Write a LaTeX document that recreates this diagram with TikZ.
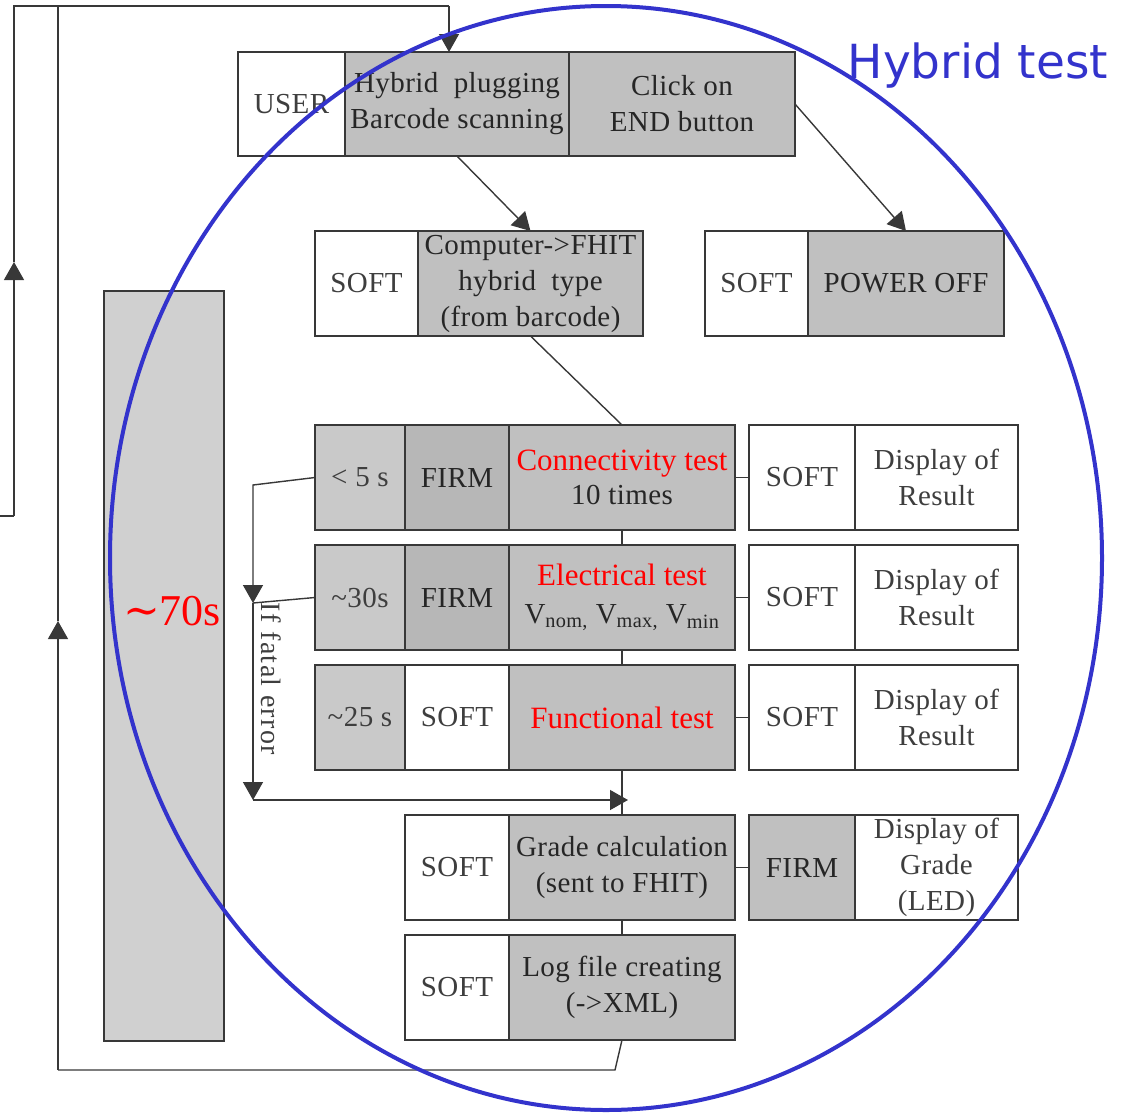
\documentclass[tikz,border=0pt]{standalone}
\usepackage{fontspec}
\setmainfont{Liberation Serif}
\newfontfamily\cellfont{Liberation Serif}[LetterSpace=1.5]
\newfontfamily\labelsans{DejaVu Sans}
\newfontfamily\symserif{DejaVu Serif}
\usetikzlibrary{arrows.meta}

\definecolor{ink}{HTML}{262626}
\definecolor{softink}{HTML}{3E3E3E}
\definecolor{edge}{HTML}{383838}
\definecolor{cellgray}{HTML}{C0C0C0}
\definecolor{timegray}{HTML}{C9C9C9}
\definecolor{firmgray}{HTML}{B7B7B7}
\definecolor{bandgray}{HTML}{D0D0D0}
\definecolor{ringblue}{HTML}{3333CC}
\definecolor{alertred}{HTML}{FF0000}

\newcommand\redline[1]{{\rmfamily\fontsize{31}{38}\selectfont\color{alertred}#1}}

\begin{document}
\begin{tikzpicture}[x=1pt,y=-1pt,
  cell/.style={draw=edge, line width=1.8pt, inner sep=0pt, outer sep=0pt,
    anchor=north west, align=center, text=ink,
    font=\cellfont\fontsize{29}{36}\selectfont},
  whitecell/.style={cell, fill=white, text=softink},
  graycell/.style={cell, fill=cellgray},
  timecell/.style={cell, fill=timegray, text=softink},
  firmcell/.style={cell, fill=firmgray},
  conn/.style={draw=edge, line width=1.4pt},
  tip/.style={-{Triangle[length=18pt,width=20pt]}}
]
\useasboundingbox (0,0) rectangle (1125,1114);

% total-time band
\node[cell, fill=bandgray, minimum width=120pt, minimum height=750pt] (band) at (104,291) {};
\node[text=alertred, font=\rmfamily\fontsize{44}{50}\selectfont] (total) at (172,611) {{\symserif ∼}70s};

% row 1: operator actions
\node[whitecell, minimum width=107pt, minimum height=104pt] (user) at (238,52) {USER};
\node[graycell, minimum width=224pt, minimum height=104pt] (plug) at (345,52) {Hybrid\ \ plugging\\Barcode scanning};
\node[graycell, minimum width=226pt, minimum height=104pt] (click) at (569,52) {Click on\\END button};

% row 2
\node[whitecell, minimum width=103pt, minimum height=105pt] (softa) at (315,231) {SOFT};
\node[graycell, minimum width=225pt, minimum height=105pt] (comp) at (418,231) {Computer->FHIT\\hybrid\ \ type\\(from barcode)};
\node[whitecell, minimum width=103pt, minimum height=105pt] (softb) at (705,231) {SOFT};
\node[graycell, minimum width=196pt, minimum height=105pt] (power) at (808,231) {POWER OFF};

% row 3: connectivity
\node[timecell, minimum width=90pt, minimum height=105pt] (tfive) at (315,425) {< 5 s};
\node[firmcell, minimum width=104pt, minimum height=105pt] (firma) at (405,425) {FIRM};
\node[graycell, minimum width=226pt, minimum height=105pt] (connt) at (509,425) {\redline{Connectivity test}\\[-2pt]10 times};
\node[whitecell, minimum width=106pt, minimum height=105pt] (softc) at (749,425) {SOFT};
\node[whitecell, minimum width=163pt, minimum height=105pt] (dispa) at (855,425) {Display of\\Result};

% row 4: electrical
\node[timecell, minimum width=90pt, minimum height=105pt] (tthirty) at (315,545) {\textasciitilde30s};
\node[firmcell, minimum width=104pt, minimum height=105pt] (firmb) at (405,545) {FIRM};
\node[graycell, minimum width=226pt, minimum height=105pt] (elec) at (509,545) {\redline{Electrical test}\\[2pt]V\textsubscript{nom,} V\textsubscript{max,} V\textsubscript{min}};
\node[whitecell, minimum width=106pt, minimum height=105pt] (softd) at (749,545) {SOFT};
\node[whitecell, minimum width=163pt, minimum height=105pt] (dispb) at (855,545) {Display of\\Result};

% row 5: functional
\node[timecell, minimum width=90pt, minimum height=105pt] (ttwentyfive) at (315,665) {\textasciitilde25 s};
\node[whitecell, minimum width=104pt, minimum height=105pt] (softe) at (405,665) {SOFT};
\node[graycell, minimum width=226pt, minimum height=105pt] (func) at (509,665) {\redline{Functional test}};
\node[whitecell, minimum width=106pt, minimum height=105pt] (softf) at (749,665) {SOFT};
\node[whitecell, minimum width=163pt, minimum height=105pt] (dispc) at (855,665) {Display of\\Result};

% row 6: grade
\node[whitecell, minimum width=104pt, minimum height=105pt] (softg) at (405,815) {SOFT};
\node[graycell, minimum width=226pt, minimum height=105pt] (grade) at (509,815) {Grade calculation\\(sent to FHIT)};
\node[graycell, minimum width=106pt, minimum height=105pt] (firmc) at (749,815) {FIRM};
\node[whitecell, minimum width=163pt, minimum height=105pt] (dispd) at (855,815) {Display of\\Grade\\(LED)};

% row 7: log file
\node[whitecell, minimum width=104pt, minimum height=105pt] (softh) at (405,935) {SOFT};
\node[graycell, minimum width=226pt, minimum height=105pt] (logf) at (509,935) {Log file creating\\(->XML)};

% connector points
\coordinate (entry) at (449,52);
\coordinate (etop) at (449,6);
\coordinate (otop) at (14,6);
\coordinate (omid) at (14,262);
\coordinate (ocorner) at (14,516);
\coordinate (odoor) at (0,516);
\coordinate (ltop) at (58,6);
\coordinate (lmid) at (58,621);
\coordinate (lcorner) at (58,1070);
\coordinate (lbot) at (615,1070);
\coordinate (fbend) at (253,485);
\coordinate (fea) at (253,603);
\coordinate (feb) at (253,800);
\coordinate (fec) at (628,800);

% flow between steps
\draw[conn, tip] (plug.south) -- (comp.north);
\draw[conn, tip] (click.east) -- (power.north);
\draw[conn] (comp.south) -- (connt.north);
\draw[conn] (connt.south) -- (elec.north);
\draw[conn] (elec.south) -- (func.north);
\draw[conn] (func.south) -- (grade.north);
\draw[conn] (grade.south) -- (logf.north);
\draw[conn] (connt.east) -- (softc.west);
\draw[conn] (elec.east) -- (softd.west);
\draw[conn] (func.east) -- (softf.west);
\draw[conn] (grade.east) -- (firmc.west);

% fatal error bypass
\draw[conn, tip] (tfive.west) -- (fbend) -- (fea);
\draw[conn] (tthirty.west) -- (fea);
\draw[conn, tip] (fea) -- (feb);
\draw[conn, tip] (feb) -- (fec);
\node[rotate=-90, text=softink, font=\cellfont\fontsize{28}{30}\selectfont\addfontfeature{LetterSpace=5}] (fatal) at (271,679) {If fatal error};

% loops back to the next hybrid
\draw[conn] (logf.south) -- (lbot) -- (lcorner);
\draw[conn, tip] (lcorner) -- (lmid);
\draw[conn] (lmid) -- (ltop);
\draw[conn] (odoor) -- (ocorner);
\draw[conn, tip] (ocorner) -- (omid);
\draw[conn] (omid) -- (otop) -- (etop);
\draw[conn, tip] (etop) -- (entry);

% hybrid test outline
\draw[ringblue, line width=4pt] (606,558) ellipse [x radius=496pt, y radius=552pt];
\node[text=ringblue, font=\labelsans\fontsize{47}{56}\selectfont] (title) at (978,66) {Hybrid test};
\end{tikzpicture}
\end{document}
